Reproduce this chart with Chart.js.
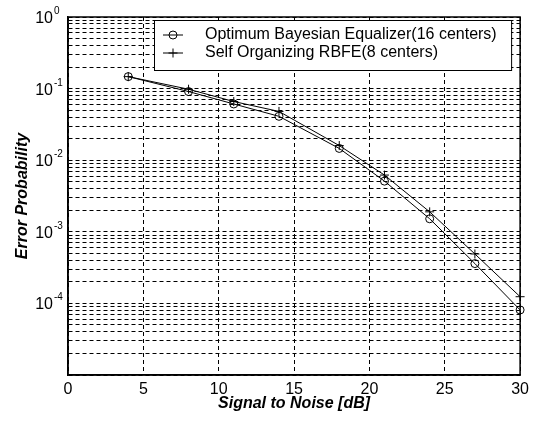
<!DOCTYPE html>
<html>
<head>
<meta charset="utf-8">
<script src="https://cdn.jsdelivr.net/npm/chart.js@4.4.0/dist/chart.umd.min.js"></script>
<style>
  body { margin: 0; background: #fff; }
  canvas { display: block; }
</style>
</head>
<body>
<canvas id="chart-ber" width="534" height="421"></canvas>
<script>
// values
var snr = [4, 8, 11, 14, 18, 21, 24, 27, 30];
var bayesian = [0.147, 0.091, 0.061, 0.041, 0.0146, 0.0051, 0.00152, 0.00036, 0.000081];
var rbfe = [0.147, 0.098, 0.066, 0.048, 0.016, 0.0062, 0.0019, 0.00049, 0.000124];

var xTickValues = [0, 5, 10, 15, 20, 25, 30];
var labelledPowers = [0, -1, -2, -3, -4];
var legendLabels = ['Optimum Bayesian Equalizer(16 centers)', 'Self Organizing RBFE(8 centers)'];

var FONT = '"Liberation Sans", Arial, sans-serif';


function toPoints(xs, ys) {
    var pts = [];
    for (var i = 0; i < xs.length; i++) {
        pts.push({x: xs[i], y: ys[i]});
    }
    return pts;
}


// 1..9 x 10^p for every decade, so the grid gets its minor lines
function logGridValues(minPow, maxPow) {
    var vals = [];
    for (var p = minPow; p < maxPow; p++) {
        for (var m = 1; m < 10; m++) {
            vals.push(m * Math.pow(10, p));
        }
    }
    vals.push(Math.pow(10, maxPow));
    return vals;
}


function drawMarker(ctx, style, x, y) {
    ctx.beginPath();
    if (style == 'circle') {
        ctx.arc(x, y, 4, 0, Math.PI * 2);
    } else {
        ctx.moveTo(x - 4.5, y); ctx.lineTo(x + 4.5, y);
        ctx.moveTo(x, y - 4.5); ctx.lineTo(x, y + 4.5);
    }
    ctx.stroke();
}


var framePlugin = {
    id: 'frame',
    beforeDraw: (chart) => {
        var ctx = chart.ctx;
        ctx.save();
        ctx.fillStyle = '#fff';
        ctx.fillRect(0, 0, chart.width, chart.height);
        ctx.restore();
    },
    afterDraw: (chart) => {
        var ctx = chart.ctx;
        var a = chart.chartArea;
        var y = chart.scales.y;
        ctx.save();

        // legend box inside the plot, top right
        var lx = a.left + 86, ly = a.top + 3, lw = a.right - 9 - lx, lh = 50;
        ctx.fillStyle = '#fff';
        ctx.fillRect(lx, ly, lw, lh);
        ctx.strokeStyle = '#000';
        ctx.lineWidth = 1;
        ctx.strokeRect(lx + 0.5, ly + 0.5, lw, lh);
        var styles = ['circle', 'cross'];
        for (var i = 0; i < legendLabels.length; i++) {
            var ry = ly + 15 + i * 18;
            ctx.beginPath();
            ctx.moveTo(lx + 9, ry);
            ctx.lineTo(lx + 29, ry);
            ctx.stroke();
            drawMarker(ctx, styles[i], lx + 19, ry);
            ctx.fillStyle = '#000';
            ctx.font = '16px ' + FONT;
            ctx.textAlign = 'left';
            ctx.textBaseline = 'middle';
            ctx.fillText(legendLabels[i], lx + 51, ry);
        }

        // solid box round the plot
        ctx.lineWidth = 1.5;
        ctx.strokeRect(a.left, a.top, a.right - a.left, a.bottom - a.top);

        // 10^n tick labels
        ctx.fillStyle = '#000';
        ctx.textBaseline = 'alphabetic';
        labelledPowers.forEach((p) => {
            var py = y.getPixelForValue(Math.pow(10, p));
            ctx.font = '16px ' + FONT;
            ctx.textAlign = 'right';
            ctx.fillText('10', a.left - 15, py + 6);
            ctx.font = '10px ' + FONT;
            ctx.textAlign = 'left';
            ctx.fillText(p == 0 ? '0' : '-' + (-p), a.left - 14, py - 3);
        });
        ctx.restore();
    },
};


var ctx = document.getElementById('chart-ber').getContext('2d');
var myChart = new Chart(ctx, {
    type: 'line',
    plugins: [framePlugin],
    data: {
        datasets: [
            {
                label: legendLabels[0],
                data: toPoints(snr, bayesian),
                borderColor: '#000',
                borderWidth: 1,
                pointStyle: 'circle',
                pointRadius: 4,
                pointBorderWidth: 1,
                pointBackgroundColor: 'rgba(0,0,0,0)',
                pointBorderColor: '#000',
                fill: false,
                clip: false,
            },
            {
                label: legendLabels[1],
                data: toPoints(snr, rbfe),
                borderColor: '#000',
                borderWidth: 1,
                pointStyle: 'cross',
                pointRadius: 4.5,
                pointBorderWidth: 1,
                pointBorderColor: '#000',
                fill: false,
                clip: false,
            },
        ],
    },
    options: {
        responsive: false,
        animation: false,
        devicePixelRatio: 1,
        elements: {
            line: { tension: 0 },
        },
        layout: {
            padding: { top: 17, right: 13, bottom: 0, left: 0 },
        },
        plugins: {
            legend: { display: false },
            tooltip: { enabled: false },
        },
        scales: {
            x: {
                type: 'linear',
                min: 0,
                max: 30,
                afterBuildTicks: (scale) => {
                    scale.ticks = xTickValues.map((v) => ({value: v}));
                },
                afterFit: (scale) => { scale.height = 46; },
                ticks: {
                    color: '#000',
                    font: { family: FONT, size: 16 },
                    padding: 5,
                    autoSkip: false,
                    maxRotation: 0,
                },
                grid: {
                    color: '#000',
                    lineWidth: 1,
                    drawTicks: false,
                },
                border: { color: '#000', width: 1.5, dash: [4, 3] },
                title: {
                    display: true,
                    text: 'Signal to Noise [dB]',
                    color: '#000',
                    font: { family: FONT, size: 16, weight: 'bold', style: 'italic' },
                    padding: { top: 0, bottom: 8 },
                },
            },
            y: {
                type: 'logarithmic',
                min: 1e-5,
                max: 1,
                afterBuildTicks: (scale) => {
                    scale.ticks = logGridValues(-5, 0).map((v) => ({value: v}));
                },
                afterFit: (scale) => { scale.width = 68; },
                ticks: { display: false },
                grid: {
                    color: '#000',
                    lineWidth: 1,
                    drawTicks: false,
                },
                border: { color: '#000', width: 1.5, dash: [4, 3] },
                title: {
                    display: true,
                    text: 'Error Probability',
                    color: '#000',
                    font: { family: FONT, size: 16, weight: 'bold', style: 'italic' },
                    padding: { top: 13, bottom: 0 },
                },
            },
        },
    },
});
</script>
</body>
</html>
